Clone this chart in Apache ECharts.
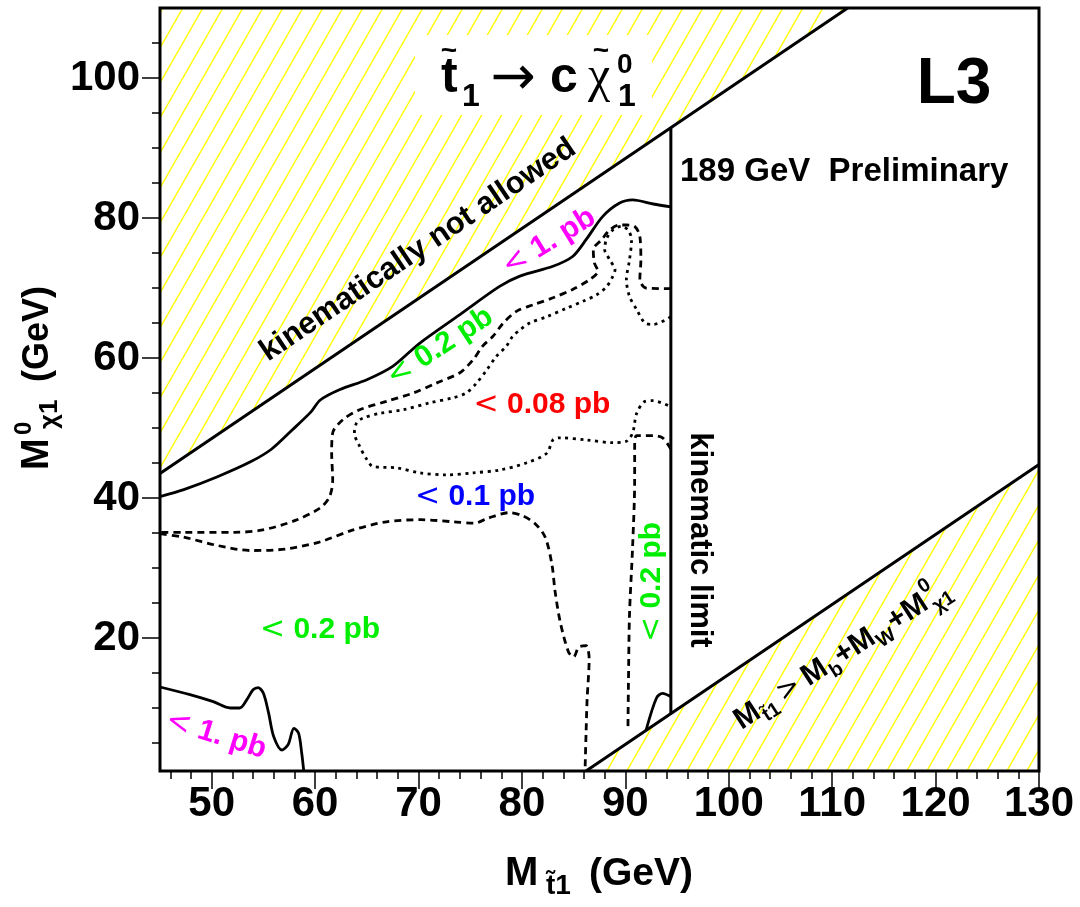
<!DOCTYPE html>
<html><head><meta charset="utf-8">
<script src="https://cdn.jsdelivr.net/npm/echarts@6.0.0/dist/echarts.min.js"></script>
<style>html,body{margin:0;padding:0;background:#fff}#c{width:1080px;height:907px}</style>
</head><body><div id="c"></div><script>
const xMajorTicks = [50,60,70,80,90,100,110,120,130];
const xMinorTicks = [46,48,52,54,56,58,62,64,66,68,72,74,76,78,82,84,86,88,92,94,96,98,102,104,106,108,112,114,116,118,122,124,126,128];
const yMajorTicks = [20,40,60,80,100];
const yMinorTicks = [5,10,15,25,30,35,45,50,55,65,70,75,85,90,95,105];

const upperKinematicLine = [[45,43.5],[111.5,110]];
const lowerKinematicLine = [[86.2,1],[130,44.8]];
const kinematicLimitLine = [[94.4,9.2],[94.4,92.9]];
const upperHatchRegion = [[45,43.5],[111.5,110],[45,110]];
const lowerHatchRegion = [[86.2,1],[130,44.8],[130,1]];

// < 1 pb (upper, solid)
const contour1pbUpper = [[45,40.2],[47.3,41.2],[50.5,43.0],[53.8,45.2],[55.8,47.0],[57.7,49.6],[59.6,52.3],[60.5,54.0],[62.4,55.5],[65.0,56.9],[67.5,58.8],[70.1,62.1],[74.0,66.2],[77.8,70.2],[79.8,71.7],[83.0,73.1],[84.9,74.5],[86.2,76.9],[87.8,80.2],[89.4,82.1],[90.7,82.6],[92.7,82.0],[94.4,81.6]];
// < 0.2 pb (upper, dashed)
const contour02pbUpper = [[94.4,69.9],[92.0,70.0],[91.4,71.2],[91.5,74.0],[91.4,77.4],[90.9,78.8],[90.1,79.0],[89.4,79.0],[88.5,78.3],[87.7,76.9],[86.9,75.5],[87.0,73.6],[87.35,72.4],[86.55,71.2],[84.9,69.8],[83.0,68.6],[81.1,67.6],[79.5,66.7],[78.2,65.0],[77.2,63.1],[76.2,61.7],[75.3,59.8],[74.0,57.9],[71.7,56.4],[69.5,55.0],[66.9,53.8],[64.3,52.6],[62.7,51.2],[61.7,49.3],[61.6,46.4],[61.7,42.6],[61.4,40.2],[60.5,38.6],[58.1,36.8],[54.8,35.4],[52.2,35.1],[47.3,35.1],[45,35.1]];
// < 0.08 pb (dotted)
const contour008pb = [[94.4,65.9],[92.7,64.8],[91.9,65.0],[91.1,66.9],[90.4,68.8],[90.1,71.2],[90.4,74.0],[90.6,76.9],[90.25,78.3],[89.6,78.8],[88.8,78.3],[88.2,77.1],[88.0,75.5],[88.5,74.0],[89.0,72.6],[88.8,71.7],[88.2,70.2],[87.2,69.0],[85.9,68.1],[84.3,67.1],[82.4,65.9],[80.75,65.0],[79.8,64.0],[79.1,63.1],[78.5,61.7],[77.5,60.2],[76.6,58.3],[75.6,56.4],[74.6,55.0],[73.3,54.3],[71.1,53.6],[68.5,52.6],[66.3,52.1],[64.6,51.4],[64.0,50.7],[63.8,49.3],[64.3,47.4],[65.0,45.5],[65.6,44.5],[67.9,44.3],[70.1,43.6],[72.7,43.3],[75.3,43.6],[77.85,44.0],[80.4,45.0],[82.4,46.4],[83.0,48.3],[83.65,48.6],[86.2,48.3],[88.8,47.9],[90.1,48.1],[90.7,49.3],[91.1,52.1],[91.9,53.8],[92.7,53.9],[94.4,53.0]];
// < 0.2 pb (right, dashed)
const contour02pbRight = [[94.4,47.0],[93.6,48.6],[92.7,48.9],[91.1,48.9],[90.9,47.4],[90.9,42.6],[90.7,33.0],[90.4,23.3],[90.3,13.6],[90.25,6.9]];
// < 0.1 pb (lower, dashed)
const contour01pbLower = [[45,34.9],[47.3,34.4],[50.6,33.2],[53.8,32.5],[57.1,32.7],[60.4,33.7],[63.6,35.4],[66.9,36.6],[70.2,36.9],[73.4,36.6],[75.4,36.4],[76.7,37.1],[78.7,37.9],[80.0,37.5],[81.3,36.3],[82.25,34.4],[82.9,30.5],[83.2,26.7],[83.7,22.3],[84.5,18.0],[85.0,17.3],[85.5,18.7],[86.2,18.9],[86.5,17.0],[86.3,11.2],[86.2,6.4],[86.1,1]];
// < 1 pb (bottom-left, solid)
const contour1pbLower = [[45,13.0],[47.9,11.9],[50.15,10.9],[51.8,10.0],[52.7,10.0],[53.4,11.2],[54.0,12.6],[54.5,12.9],[55.0,12.1],[55.5,9.3],[56.0,5.9],[56.8,4.0],[57.4,4.8],[57.95,7.1],[58.4,6.4],[58.7,3.6],[58.9,1]];
// < 1 pb (corner near kinematic limit, solid)
const contour1pbCorner = [[92.0,6.8],[93.0,11.4],[93.6,12.1],[94.4,11.6]];

const FONT = '"Liberation Sans", Arial, Helvetica, sans-serif';
const SYM = '"DejaVu Sans", sans-serif';

function hatchCanvas() {
  const c = document.createElement('canvas');
  c.width = 20; c.height = 35;
  const g = c.getContext('2d');
  g.strokeStyle = '#ffff00';
  g.lineWidth = 1.4;
  for (let k = -1; k <= 1; k++) {
    g.beginPath();
    g.moveTo(8.54 + 20 * k, -2);
    g.lineTo(-13.74 + 20 * k, 37);
    g.stroke();
  }
  return c;
}
const hatchFill = { image: hatchCanvas(), repeat: 'repeat' };

function hatchSeries(poly) {
  return {
    type: 'custom', coordinateSystem: 'cartesian2d', silent: true, z: 1,
    data: [[0, 0]],
    renderItem: function (params, api) {
      return { type: 'polygon', shape: { points: poly.map(p => api.coord(p)) },
               style: { fill: hatchFill, stroke: null } };
    }
  };
}
function lineSeries(data, type, width, smooth) {
  return {
    type: 'line', data: data, symbol: 'none', smooth: smooth, silent: true, z: 3,
    lineStyle: { color: '#000', width: width, type: type, cap: 'butt' }
  };
}
function pbLabel(value, color, x, y, rot, size) {
  return { type: 'text', x: x, y: y, rotation: rot || 0, z: 100, silent: true,
    style: { text: '{lt|<}{t| ' + value + ' pb}', align: 'center', verticalAlign: 'middle',
      rich: { lt: { fontFamily: SYM, fontWeight: 'normal', fontSize: size, fill: color },
              t: { fontFamily: FONT, fontWeight: 'bold', fontSize: size, fill: color } } } };
}
function txt(text, x, y, size, opts) {
  opts = opts || {};
  return { type: 'text', x: x, y: y, rotation: opts.rot || 0, z: 100, silent: true,
    style: { text: text, align: opts.align || 'center', verticalAlign: 'middle',
      fontFamily: opts.family || FONT, fontWeight: opts.weight || 'bold', fontSize: size, fill: opts.color || '#000' } };
}

const chart = echarts.init(document.getElementById('c'), null, { renderer: 'canvas' });
const axisCommon = { type: 'value', splitLine: { show: false }, axisLine: { show: false } };
chart.setOption({
  animation: false,
  backgroundColor: '#fff',
  grid: { left: 160, right: 41, top: 8, bottom: 136, show: true, borderColor: '#000', borderWidth: 3, backgroundColor: 'transparent', z: 10 },
  xAxis: [
    Object.assign({}, axisCommon, { min: 45, max: 130, position: 'bottom',
      axisTick: { show: true, length: 18, customValues: xMajorTicks, lineStyle: { color: '#000', width: 1.5 } },
      axisLabel: { customValues: xMajorTicks, fontSize: 42, fontWeight: 'bold', fontFamily: FONT, color: '#000', margin: 12 } }),
    Object.assign({}, axisCommon, { min: 45, max: 130, position: 'bottom',
      axisTick: { show: true, length: 8, customValues: xMinorTicks, lineStyle: { color: '#000', width: 1.5 } },
      axisLabel: { show: false } })
  ],
  yAxis: [
    Object.assign({}, axisCommon, { min: 1, max: 110, position: 'left',
      axisTick: { show: true, length: 18, customValues: yMajorTicks, lineStyle: { color: '#000', width: 1.5 } },
      axisLabel: { customValues: yMajorTicks, fontSize: 42, fontWeight: 'bold', fontFamily: FONT, color: '#000', margin: 20 } }),
    Object.assign({}, axisCommon, { min: 1, max: 110, position: 'left',
      axisTick: { show: true, length: 8, customValues: yMinorTicks, lineStyle: { color: '#000', width: 1.5 } },
      axisLabel: { show: false } })
  ],
  series: [
    hatchSeries(upperHatchRegion),
    hatchSeries(lowerHatchRegion),
    lineSeries(upperKinematicLine, 'solid', 3, false),
    lineSeries(lowerKinematicLine, 'solid', 3, false),
    lineSeries(kinematicLimitLine, 'solid', 3, false),
    lineSeries(contour1pbUpper, 'solid', 2.8, 0.3),
    lineSeries(contour02pbUpper, [7, 5], 2.8, 0.3),
    lineSeries(contour008pb, [3, 4.5], 2.8, 0.3),
    lineSeries(contour02pbRight, [7, 5], 2.8, 0.3),
    lineSeries(contour01pbLower, [7, 5], 2.8, 0.3),
    lineSeries(contour1pbLower, 'solid', 2.8, 0.3),
    lineSeries(contour1pbCorner, 'solid', 2.8, 0.3)
  ],
  graphic: { elements: [
    { type: 'rect', shape: { x: 415, y: 35, width: 237, height: 80 }, style: { fill: '#fff' }, z: 50, silent: true },
    // title: stop -> c neutralino
    txt('t', 441, 78, 50, { align: 'left' }),
    txt('~', 449, 51, 28),
    txt('1', 462, 97, 32, { align: 'left' }),
    txt('\u2192', 513, 80, 54, { weight: 'normal', family: SYM }),
    txt('c', 550, 78, 50, { align: 'left' }),
    txt('\u03c7', 588, 78, 50, { align: 'left', weight: 'normal', family: '"Liberation Serif", serif' }),
    txt('~', 601, 51, 28),
    txt('0', 617, 65, 28, { align: 'left' }),
    txt('1', 618, 97, 32, { align: 'left' }),
    txt('L3', 954, 85, 64),
    txt('189 GeV  Preliminary', 680, 172, 33, { align: 'left' }),
    txt('kinematically not allowed', 418, 250, 31, { rot: 0.595 }),
    txt('kinematic limit', 700, 540, 31, { rot: -Math.PI / 2 }),
    pbLabel('1.', '#ff00ff', 549, 242, 0.55, 30),
    pbLabel('0.2', '#00ee00', 440, 347, 0.58, 30),
    pbLabel('0.08', '#ff0000', 542, 405, 0, 30),
    pbLabel('0.1', '#0000ff', 475, 497, 0, 30),
    pbLabel('0.2', '#00ee00', 320, 630, 0, 30),
    pbLabel('1.', '#ff00ff', 216, 735, -0.3, 30),
    pbLabel('0.2', '#00ee00', 652, 582, Math.PI / 2, 30),
    // M_stop > M_b + M_W + M_chi
    { type: 'group', x: 842, y: 655, rotation: 0.575, z: 100, silent: true, children: [
      txt('M', -125, 0, 30, { align: 'left' }),
      txt('t\u03031', -99, 10, 20, { align: 'left' }),
      txt('>', -75, 0, 28, { weight: 'normal', family: SYM, align: 'left' }),
      txt('M', -45, 0, 30, { align: 'left' }),
      txt('b', -19, 10, 20, { align: 'left' }),
      txt('+M', -6, 0, 30, { align: 'left' }),
      txt('W', 37, 10, 20, { align: 'left' }),
      txt('+M', 57, 0, 30, { align: 'left' }),
      txt('0', 101, -13, 20, { align: 'left' }),
      txt('\u03c71', 103, 11, 20, { align: 'left' })
    ] },
    // x axis name
    txt('M', 505, 874, 40, { align: 'left' }),
    txt('t\u03031', 546, 886, 28, { align: 'left' }),
    txt('(GeV)', 589, 874, 39, { align: 'left' }),
    // y axis name
    { type: 'group', x: 38, y: 378, rotation: Math.PI / 2, z: 100, silent: true, children: [
      txt('M', -92, 0, 38, { align: 'left' }),
      txt('0', -57, -14, 24, { align: 'left' }),
      txt('\u03c71', -51, 12, 26, { align: 'left' }),
      txt('(GeV)', -4, 0, 36, { align: 'left' })
    ] }
  ] }
});
</script></body></html>
